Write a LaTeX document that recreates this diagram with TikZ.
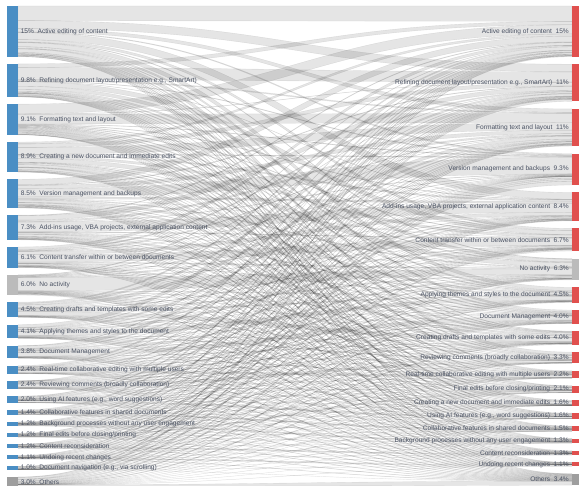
\documentclass[tikz,border=0pt]{standalone}
\usepackage{fontspec}
\setmainfont{Liberation Sans}
\definecolor{lblue}{HTML}{4A8EC4}
\definecolor{rred}{HTML}{E0504E}
\definecolor{ngray}{HTML}{BBBBBB}
\definecolor{ogray}{HTML}{9E9E9E}
\definecolor{txt}{HTML}{4A5263}
\tikzset{
  barbox/.style={inner sep=0pt, outer sep=0pt, minimum width=11pt, draw=none},
  lab/.style={font=\fontsize{6.6}{7}\selectfont, text=txt, inner sep=0pt},
  band/.style={fill=black, fill opacity=0.1, draw=black, draw opacity=0.09, line width=0.35pt},
}
\begin{document}
\begin{tikzpicture}[x=1pt,y=-1pt]
\fill[white] (0,0) rectangle (579,486);
\useasboundingbox (0,0) rectangle (579,486);
\def\Lv{{15,9.8,9.1,8.9,8.5,7.3,6.1,6.0,4.5,4.1,3.8,2.4,2.4,2.0,1.4,1.2,1.2,1.2,1.1,1.0,3.0}}
\def\Rv{{15,11,11,9.3,8.4,6.7,6.3,4.5,4.0,4.0,3.3,2.2,2.1,1.6,1.6,1.5,1.3,1.3,1.1,3.4}}
\def\Mt{{0,1,2,13,3,4,5,6,9,7,8,11,10,14,15,16,12,17,18,-1,19}}
\def\sc{3.38}
% left tops
\xdef\acc{6}
\foreach \i in {0,...,20}{
  \pgfmathsetmacro{\hq}{\sc*\Lv[\i]}
  \expandafter\xdef\csname Ltop\i\endcsname{\acc}
  \expandafter\xdef\csname Lh\i\endcsname{\hq}
  \pgfmathsetmacro{\nacc}{\acc+\hq+7.15}
  \xdef\acc{\nacc}
}
% right tops
\xdef\acc{6}
\foreach \j in {0,...,19}{
  \pgfmathsetmacro{\hq}{\sc*\Rv[\j]}
  \expandafter\xdef\csname Rtop\j\endcsname{\acc}
  \expandafter\xdef\csname Rh\j\endcsname{\hq}
  \pgfmathsetmacro{\nacc}{\acc+\hq+7.5}
  \xdef\acc{\nacc}
}
% diagonal parts
\foreach \j in {0,...,19}{\expandafter\xdef\csname dR\j\endcsname{0}}
\foreach \i in {0,...,20}{
  \pgfmathtruncatemacro{\mq}{\Mt[\i]}
  \ifnum\mq<0
    \expandafter\xdef\csname dL\i\endcsname{0}
  \else
    \pgfmathsetmacro{\dd}{0.25*min(\Lv[\i],\Rv[\mq])}
    \expandafter\xdef\csname dL\i\endcsname{\dd}
    \expandafter\xdef\csname dR\mq\endcsname{\dd}
  \fi
  \expandafter\xdef\csname mt\i\endcsname{\mq}
}
\xdef\Ssum{0}
\foreach \j in {0,...,19}{
  \pgfmathsetmacro{\rr}{\Rv[\j]-\csname dR\j\endcsname}
  \expandafter\xdef\csname rR\j\endcsname{\rr}
  \pgfmathsetmacro{\ns}{\Ssum+\rr}
  \xdef\Ssum{\ns}
}
% flows, row and column sums
\foreach \j in {0,...,19}{\expandafter\xdef\csname cs\j\endcsname{0}}
\foreach \i in {0,...,20}{
  \pgfmathsetmacro{\rl}{\Lv[\i]-\csname dL\i\endcsname}
  \xdef\rsum{0}
  \foreach \j in {0,...,19}{
    \pgfmathsetmacro{\hq}{mod(\i*37+\j*61+\i*\j*17+11,89)/89}
    \pgfmathsetmacro{\wq}{0.1+2.5*\hq*\hq}
    \pgfmathsetmacro{\fq}{\rl*\csname rR\j\endcsname/\Ssum*\wq}
    \ifnum\csname mt\i\endcsname=\j
      \pgfmathsetmacro{\fq}{\fq+\csname dL\i\endcsname}
    \fi
    \expandafter\xdef\csname M\i x\j\endcsname{\fq}
    \pgfmathsetmacro{\tq}{\rsum+\fq}\xdef\rsum{\tq}
    \pgfmathsetmacro{\tq}{\csname cs\j\endcsname+\fq}
    \expandafter\xdef\csname cs\j\endcsname{\tq}
  }
  \expandafter\xdef\csname rs\i\endcsname{\rsum}
}
% bands
\foreach \j in {0,...,19}{\expandafter\xdef\csname ro\j\endcsname{0}}
\foreach \i in {0,...,20}{
  \xdef\myLo{0}
  \pgfmathsetmacro{\myLs}{\csname Lh\i\endcsname/\csname rs\i\endcsname}
  \foreach \j in {0,...,19}{
    \pgfmathsetmacro{\fq}{\csname M\i x\j\endcsname}
    \pgfmathsetmacro{\ya}{\csname Ltop\i\endcsname+\myLo*\myLs}
    \pgfmathsetmacro{\yb}{\ya+\fq*\myLs}
    \pgfmathsetmacro{\rsc}{\csname Rh\j\endcsname/\csname cs\j\endcsname}
    \pgfmathsetmacro{\yc}{\csname Rtop\j\endcsname+\csname ro\j\endcsname*\rsc}
    \pgfmathsetmacro{\yd}{\yc+\fq*\rsc}
    \fill[band] (18,\ya) .. controls (295,\ya) and (295,\yc) .. (572,\yc) -- (572,\yd) .. controls (295,\yd) and (295,\yb) .. (18,\yb) -- cycle;
    \pgfmathsetmacro{\tq}{\myLo+\fq}\xdef\myLo{\tq}
    \pgfmathsetmacro{\tq}{\csname ro\j\endcsname+\fq}
    \expandafter\xdef\csname ro\j\endcsname{\tq}
  }
}
% left bars and labels
\foreach \i/\p/\tx in {
 0/15/{Active editing of content},
 1/9.8/{Refining document layout/presentation e.g., SmartArt)},
 2/9.1/{Formatting text and layout},
 3/8.9/{Creating a new document and immediate edits},
 4/8.5/{Version management and backups},
 5/7.3/{Add-ins usage, VBA projects, external application content},
 6/6.1/{Content transfer within or between documents},
 7/6.0/{No activity},
 8/4.5/{Creating drafts and templates with some edits},
 9/4.1/{Applying themes and styles to the document},
 10/3.8/{Document Management},
 11/2.4/{Real-time collaborative editing with multiple users},
 12/2.4/{Reviewing comments (broadly collaboration)},
 13/2.0/{Using AI features (e.g., word suggestions)},
 14/1.4/{Collaborative features in shared documents},
 15/1.2/{Background processes without any user engagement},
 16/1.2/{Final edits before closing/printing},
 17/1.2/{Content reconsideration},
 18/1.1/{Undoing recent changes},
 19/1.0/{Document navigation (e.g., via scrolling)},
 20/3.0/{Others}}{
  \ifnum\i=7 \def\cl{ngray}\else\ifnum\i=20 \def\cl{ogray}\else\def\cl{lblue}\fi\fi
  \node[barbox, fill=\cl, minimum height=\csname Lh\i\endcsname pt, anchor=north west] (L\i) at (7,\csname Ltop\i\endcsname) {};
  \node[lab, anchor=west] (LL\i) at ([xshift=2.6pt]L\i.east) {\p\%\hspace{0.55em}\tx};
}
% right bars and labels
\foreach \j/\p/\tx in {
 0/15/{Active editing of content},
 1/11/{Refining document layout/presentation e.g., SmartArt)},
 2/11/{Formatting text and layout},
 3/9.3/{Version management and backups},
 4/8.4/{Add-ins usage, VBA projects, external application content},
 5/6.7/{Content transfer within or between documents},
 6/6.3/{No activity},
 7/4.5/{Applying themes and styles to the document},
 8/4.0/{Document Management},
 9/4.0/{Creating drafts and templates with some edits},
 10/3.3/{Reviewing comments (broadly collaboration)},
 11/2.2/{Real-time collaborative editing with multiple users},
 12/2.1/{Final edits before closing/printing},
 13/1.6/{Creating a new document and immediate edits},
 14/1.6/{Using AI features (e.g., word suggestions)},
 15/1.5/{Collaborative features in shared documents},
 16/1.3/{Background processes without any user engagement},
 17/1.3/{Content reconsideration},
 18/1.1/{Undoing recent changes},
 19/3.4/{Others}}{
  \ifnum\j=6 \def\cl{ngray}\else\ifnum\j=19 \def\cl{ogray}\else\def\cl{rred}\fi\fi
  \node[barbox, fill=\cl, minimum height=\csname Rh\j\endcsname pt, anchor=north west] (R\j) at (572,\csname Rtop\j\endcsname) {};
  \node[lab, anchor=east] (RL\j) at ([xshift=-3pt]R\j.west) {\tx\hspace{0.55em}\p\%};
}
\end{tikzpicture}
\end{document}
